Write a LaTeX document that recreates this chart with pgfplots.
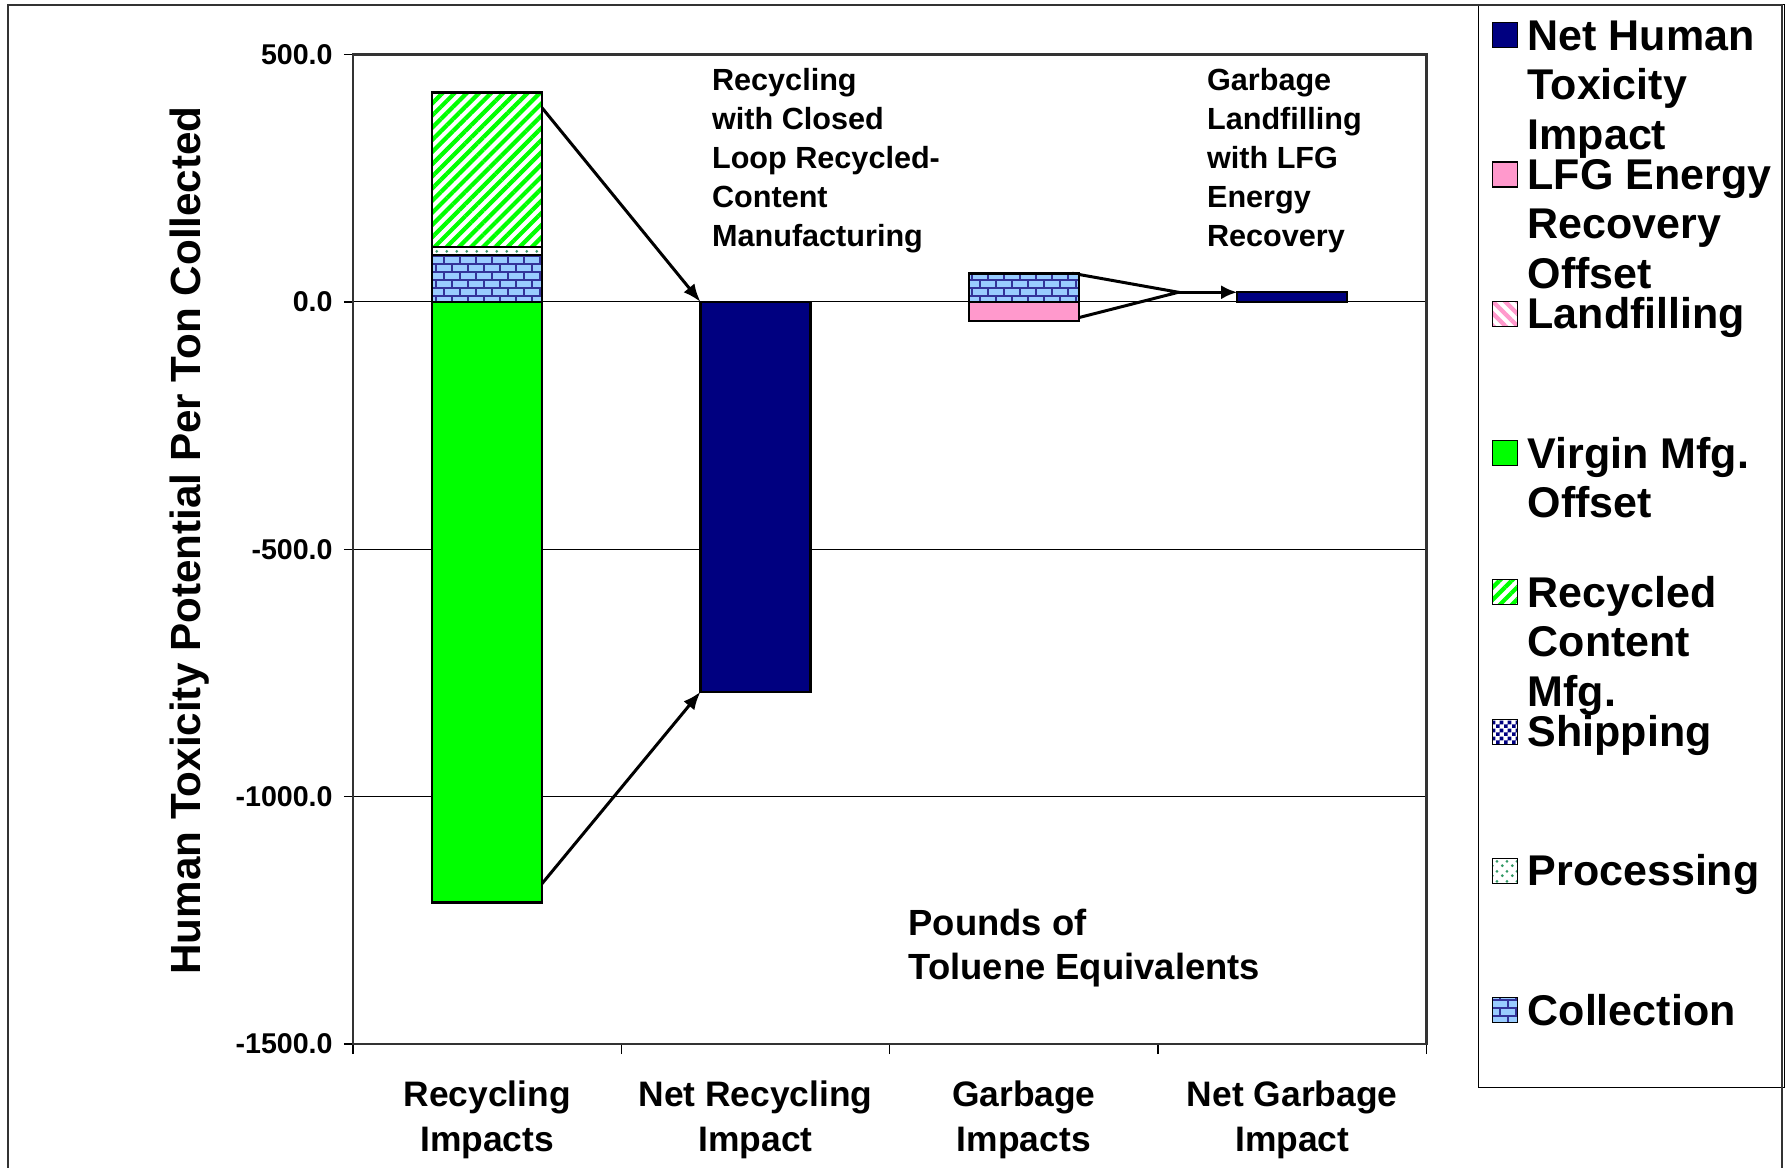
\documentclass[border=0pt]{standalone}
\usepackage{fontspec}
\setmainfont{Liberation Sans}
\usepackage{pgfplots}
\pgfplotsset{compat=1.18}
\usetikzlibrary{patterns,patterns.meta,arrows.meta}

\definecolor{netblue}{HTML}{000080}
\definecolor{lfgpink}{HTML}{FF99CC}
\definecolor{virgingreen}{HTML}{00FF00}
\definecolor{brickfill}{HTML}{99CCFF}
\definecolor{brickline}{HTML}{333399}
\definecolor{dotgreen}{HTML}{339966}

% brick pattern for the collection segments
\pgfdeclarepatternformonly{bricksB}{\pgfqpoint{-1pt}{-1pt}}{\pgfqpoint{9pt}{9pt}}{\pgfqpoint{8pt}{8pt}}{
  \pgfsetlinewidth{0.7pt}
  \pgfpathmoveto{\pgfqpoint{0pt}{0pt}}\pgfpathlineto{\pgfqpoint{8pt}{0pt}}
  \pgfpathmoveto{\pgfqpoint{0pt}{4pt}}\pgfpathlineto{\pgfqpoint{8pt}{4pt}}
  \pgfpathmoveto{\pgfqpoint{2pt}{0pt}}\pgfpathlineto{\pgfqpoint{2pt}{4pt}}
  \pgfpathmoveto{\pgfqpoint{6pt}{4pt}}\pgfpathlineto{\pgfqpoint{6pt}{8pt}}
  \pgfusepath{stroke}
}
% fine checkerboard for the shipping segments
\pgfdeclarepatternformonly{finechecker}{\pgfqpoint{0pt}{0pt}}{\pgfqpoint{4pt}{4pt}}{\pgfqpoint{4pt}{4pt}}{
  \pgfpathrectangle{\pgfqpoint{0pt}{0pt}}{\pgfqpoint{2pt}{2pt}}
  \pgfpathrectangle{\pgfqpoint{2pt}{2pt}}{\pgfqpoint{2pt}{2pt}}
  \pgfusepath{fill}
}
% sparse dots for the processing segments
\pgfdeclarepatternformonly{sparsedots}{\pgfqpoint{0pt}{0pt}}{\pgfqpoint{5pt}{5pt}}{\pgfqpoint{5pt}{5pt}}{
  \pgfpathcircle{\pgfqpoint{1.2pt}{1.2pt}}{0.8pt}
  \pgfpathcircle{\pgfqpoint{3.7pt}{3.5pt}}{0.8pt}
  \pgfusepath{fill}
}

% legend text: fixed row pitch, lines may run into the next slot
\newcommand{\legtext}[2][46.9pt]{%
  \rule[-#1]{0pt}{\dimexpr #1+22.75pt\relax}%
  \smash{\makebox[122pt][l]{\begin{tabular}[t]{@{}l@{}}#2\end{tabular}}}}

\begin{document}
\begin{tikzpicture}
\path[use as bounding box] (0pt,0pt) rectangle (892.5pt,-584pt);

\begin{axis}[
  at={(176.5pt,-522pt)}, anchor=south west,
  scale only axis, width=536.7pt, height=494.7pt,
  ybar stacked, stack negative=separate,
  bar width=0.41,
  xmin=-0.5, xmax=3.5, ymin=-1500, ymax=500,
  tick pos=left,
  xtick={0,1,2,3},
  xticklabels={{Recycling\\Impacts},{Net Recycling\\Impact},{Garbage\\Impacts},{Net Garbage\\Impact}},
  xticklabel style={align=center, font=\fontsize{17.7}{22.5}\selectfont\bfseries, inner sep=0pt, yshift=-13.5pt},
  major x tick style={draw=none},
  minor xtick={-0.5,0.5,1.5,2.5,3.5},
  minor x tick style={black, line width=0.8pt},
  minor tick length=5pt,
  ytick={-1500,-1000,-500,0,500},
  yticklabels={-1500.0,-1000.0,-500.0,0.0,500.0},
  yticklabel style={font=\fontsize{14.3}{17}\selectfont\bfseries, inner sep=0pt, xshift=-5.5pt},
  major tick length=4.5pt,
  tick align=outside,
  major y tick style={black, line width=0.8pt},
  ymajorgrids, grid style={black, line width=0.5pt},
  axis line style={black!80, line width=1.2pt},
  ylabel={Human Toxicity Potential Per Ton Collected},
  ylabel style={at={(axis description cs:-0.152,0.509)}, anchor=center,
    font=\fontsize{21.1}{25}\selectfont\bfseries},
  every axis plot/.append style={draw=black, line width=1.2pt},
  reverse legend,
  legend image code/.code={\draw[#1, line width=0.6pt] (0pt,1.25pt) rectangle (12.5pt,13.75pt);},
  legend style={
    at={(axis description cs:1.048,1.0511)}, anchor=north west,
    draw=black, line width=0.6pt, fill=white,
    inner xsep=6.5pt, inner ysep=0pt,
    column sep=5pt, row sep=0pt,
    nodes={inner sep=0pt, text depth={}, text height={}, anchor=base west},
    font=\fontsize{21.5}{24.75}\selectfont\bfseries,
  },
]
% segments of each category: Recycling, Net Recycling, Garbage, Net Garbage
\addplot[fill=brickfill, postaction={pattern=bricksB, pattern color=brickline}]
  coordinates {(0,94.4) (1,0) (2,57.4) (3,0)};
\addlegendentry{\legtext[31pt]{Collection}}
\addplot[fill=white, postaction={pattern=sparsedots, pattern color=dotgreen}]
  coordinates {(0,16.8) (1,0) (2,0) (3,0)};
\addlegendentry{\legtext{Processing}}
\addplot[fill=white, postaction={pattern=finechecker, pattern color=netblue}]
  coordinates {(0,0) (1,0) (2,0) (3,0)};
\addlegendentry{\legtext{Shipping}}
\addplot[fill=white, postaction={pattern={Lines[angle=45,distance=4.3pt,line width=2.1pt]}, pattern color=virgingreen}]
  coordinates {(0,312) (1,0) (2,0) (3,0)};
\addlegendentry{\legtext{Recycled\\Content\\Mfg.}}
\addplot[fill=virgingreen]
  coordinates {(0,-1214) (1,0) (2,0) (3,0)};
\addlegendentry{\legtext{Virgin Mfg.\\Offset}}
\addplot[fill=white, postaction={pattern={Lines[angle=-45,distance=4.3pt,line width=2.1pt]}, pattern color=lfgpink}]
  coordinates {(0,0) (1,0) (2,1) (3,0)};
\addlegendentry{\legtext{Landfilling}}
\addplot[fill=lfgpink]
  coordinates {(0,0) (1,0) (2,-38.4) (3,0)};
\addlegendentry{\legtext{LFG Energy\\Recovery\\Offset}}
\addplot[fill=netblue]
  coordinates {(0,0) (1,-788) (2,0) (3,20)};
\addlegendentry{\legtext{Net Human\\Toxicity\\Impact}}

% arrows from the gross impacts to the net impacts
\draw[black, line width=1.5pt, -{Latex[length=9pt,width=7pt]}]
  (axis cs:0.16,422) -- (axis cs:0.795,0);
\draw[black, line width=1.5pt, -{Latex[length=9pt,width=7pt]}]
  (axis cs:0.16,-1205) -- (axis cs:0.795,-788);
\draw[black, line width=1.5pt] (axis cs:2.18,58) -- (axis cs:2.576,19.6) -- (axis cs:2.166,-37);
\draw[black, line width=1.5pt, -{Latex[length=8pt,width=7pt]}]
  (axis cs:2.576,19.6) -- (axis cs:2.795,19.6);
\end{axis}

\begin{scope}[x=0.5pt, y=-0.5pt]
% outer chart frame
\draw[black!80, line width=1pt] (8,1168) -- (8,5) -- (1782,5) -- (1782,1168);
% notes
\node[anchor=north west, inner sep=0pt, align=left,
  font=\fontsize{15.3}{19.5}\selectfont\bfseries] at (711.7,68)
  {Recycling\\with Closed\\Loop Recycled-\\Content\\Manufacturing};
\node[anchor=north west, inner sep=0pt, align=left,
  font=\fontsize{15.3}{19.5}\selectfont\bfseries] at (1206.7,68)
  {Garbage\\Landfilling\\with LFG\\Energy\\Recovery};
\node[anchor=north west, inner sep=0pt, align=left,
  font=\fontsize{18.2}{21.8}\selectfont\bfseries] at (908.3,909)
  {Pounds of\\Toluene Equivalents};
\end{scope}
\end{tikzpicture}
\end{document}
